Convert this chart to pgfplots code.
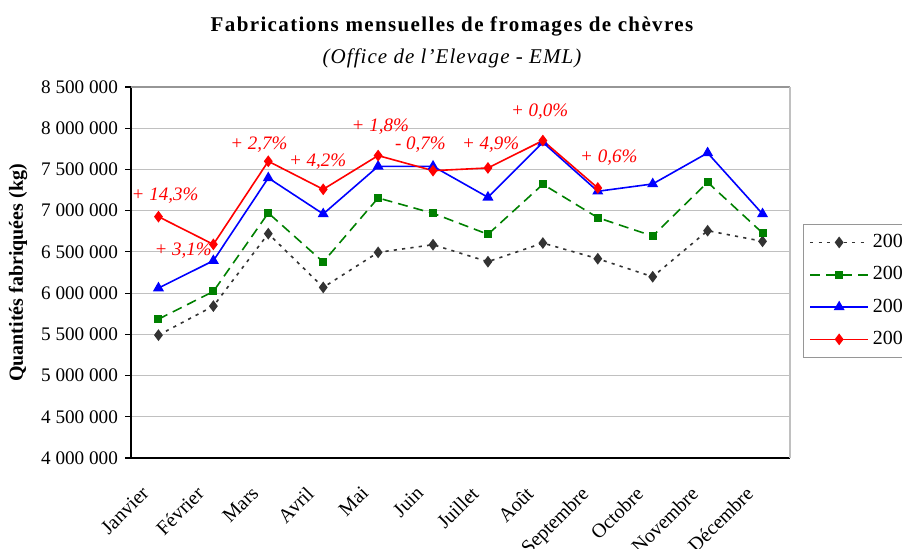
\documentclass[border=0pt]{standalone}
\usepackage{fontspec}
\setmainfont{Liberation Serif}
\usepackage{pgfplots}
\pgfplotsset{compat=1.18}
\definecolor{gridgray}{RGB}{192,192,192}
\definecolor{framegray}{RGB}{150,150,150}
\definecolor{c04}{RGB}{51,51,51}
\definecolor{c05}{RGB}{0,128,0}
\definecolor{c06}{RGB}{0,0,255}
\definecolor{c07}{RGB}{255,0,0}

\begin{document}
\begin{tikzpicture}
\path[use as bounding box] (0,0) rectangle (451pt,-274.5pt);
\node[font=\fontsize{10.5}{13}\selectfont\bfseries\addfontfeatures{LetterSpace=6.5}] at (226pt,-13pt)
  {Fabrications mensuelles de fromages de chèvres};
\node[font=\fontsize{10.5}{12}\selectfont\itshape\addfontfeatures{LetterSpace=5}] at (226pt,-29pt)
  {(Office de l'Elevage - EML)};
\node[font=\fontsize{10}{12}\selectfont\bfseries, rotate=90] at (9pt,-136.5pt)
  {Quantités fabriquées (kg)};

\begin{axis}[
    at={(65.5pt,-43.5pt)}, anchor=north west,
    scale only axis,
    width=329.5pt, height=185.5pt,
    xmin=-0.5, xmax=11.5,
    ymin=4000000, ymax=8500000,
    axis lines*=left,
    axis line style={black, line width=0.6pt},
    ytick={4000000,4500000,5000000,5500000,6000000,6500000,7000000,7500000,8000000,8500000},
    scaled y ticks=false,
    yticklabel style={font=\fontsize{9.6}{11}\selectfont,
      /pgf/number format/fixed, /pgf/number format/1000 sep={\ },
      /pgf/number format/assume math mode=true},
    ymajorgrids,
    grid style={gridgray, line width=0.6pt},
    tick style={black, line width=0.6pt},
    major tick length=3pt,
    tick align=outside,
    xtick={0,1,2,3,4,5,6,7,8,9,10,11},
    xticklabels={Janvier,Février,Mars,Avril,Mai,Juin,Juillet,Août,Septembre,Octobre,Novembre,Décembre},
    x tick style={draw=none},
    extra x ticks={-0.5,0.5,1.5,2.5,3.5,4.5,5.5,6.5,7.5,8.5,9.5,10.5,11.5},
    extra x tick labels={},
    extra x tick style={grid=none, tick style={black, line width=0.6pt}, major tick length=3pt},
    xticklabel style={font=\fontsize{10}{11}\selectfont, rotate=45, anchor=north east,
      inner sep=0pt, xshift=-13.75pt, yshift=-1pt},
    legend style={at={(1.0197,0.631)}, anchor=north west, draw=framegray,
      font=\fontsize{10}{12}\selectfont, row sep=4pt, inner sep=3pt},
    legend cell align=left,
    legend image code/.code={
      \draw[mark repeat=2, mark phase=2, #1] plot coordinates {(0pt,0pt) (14.5pt,0pt) (29pt,0pt)};},
    clip=false,
  ]
\addplot[c04, line width=0.8pt, dash pattern=on 1.6pt off 2.6pt, mark=diamond*, mark size=2.3pt, mark options={solid}]
  coordinates {(0,5490000) (1,5842000) (2,6721000) (3,6069000) (4,6494000) (5,6587000)
               (6,6381000) (7,6607000) (8,6417000) (9,6198000) (10,6757000) (11,6628000)};
\addlegendentry{2004}
\addplot[c05, line width=0.8pt, dash pattern=on 5pt off 3pt, mark=square*, mark size=1.6pt, mark options={solid}]
  coordinates {(0,5684000) (1,6020000) (2,6972000) (3,6377000) (4,7154000) (5,6968000)
               (6,6713000) (7,7320000) (8,6915000) (9,6692000) (10,7344000) (11,6729000)};
\addlegendentry{2005}
\addplot[c06, line width=0.8pt, mark=triangle*, mark size=2.4pt]
  coordinates {(0,6061000) (1,6393000) (2,7397000) (3,6960000) (4,7538000) (5,7538000)
               (6,7162000) (7,7828000) (8,7235000) (9,7324000) (10,7700000) (11,6960000)};
\addlegendentry{2006}
\addplot[c07, line width=0.8pt, mark=diamond*, mark size=2.3pt]
  coordinates {(0,6927000) (1,6591000) (2,7599000) (3,7259000) (4,7668000) (5,7485000)
               (6,7518000) (7,7850000) (8,7275000)};
\addlegendentry{2007}

\draw[framegray, line width=1pt] (rel axis cs:0,1) -- (rel axis cs:1,1);
\draw[gridgray, line width=0.6pt] (rel axis cs:1,0) -- (rel axis cs:1,1);

\begin{scope}[every node/.style={c07, font=\fontsize{9.5}{11}\selectfont\itshape}]
\node at (axis cs:0.12,7178000) {+ 14,3\%};
\node at (axis cs:0.45,6511000) {+ 3,1\%};
\node at (axis cs:1.83,7797000) {+ 2,7\%};
\node at (axis cs:2.90,7590000) {+ 4,2\%};
\node at (axis cs:4.04,8015000) {+ 1,8\%};
\node at (axis cs:4.77,7797000) {- 0,7\%};
\node at (axis cs:6.05,7797000) {+ 4,9\%};
\node at (axis cs:6.94,8197000) {+ 0,0\%};
\node at (axis cs:8.20,7639000) {+ 0,6\%};
\end{scope}
\end{axis}
\end{tikzpicture}
\end{document}
